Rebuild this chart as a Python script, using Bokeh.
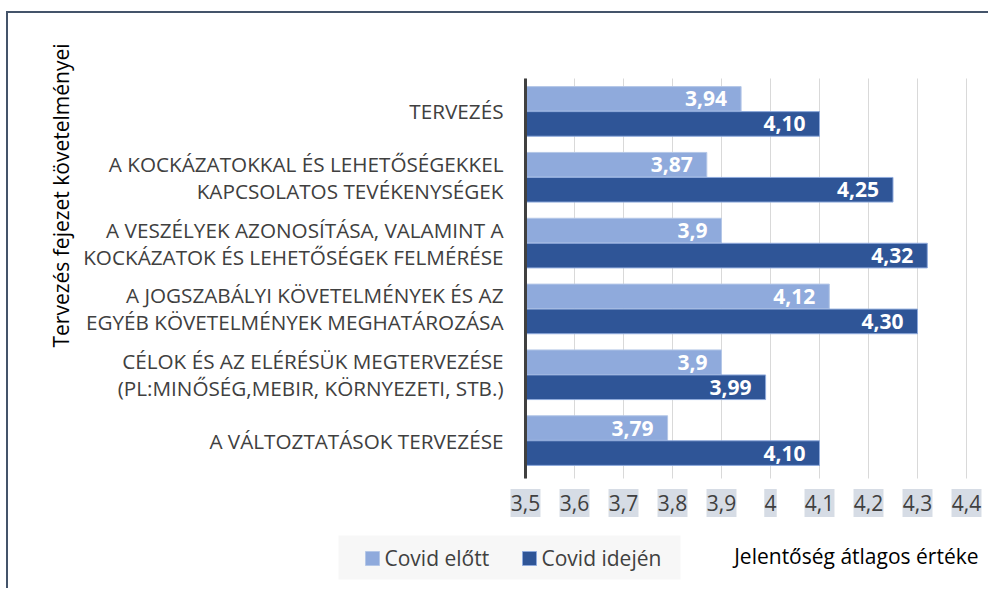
import math
from bokeh.plotting import figure
from bokeh.models import ColumnDataSource, Range1d, FixedTicker
from bokeh.core.properties import value
from bokeh.embed import file_html
from bokeh.resources import INLINE

# ---- data -----------------------------------------------------------------
categories = [
    "TERVEZÉS",
    "A KOCKÁZATOKKAL ÉS LEHETŐSÉGEKKEL\nKAPCSOLATOS TEVÉKENYSÉGEK",
    "A VESZÉLYEK AZONOSÍTÁSA, VALAMINT A\nKOCKÁZATOK ÉS LEHETŐSÉGEK FELMÉRÉSE",
    "A JOGSZABÁLYI KÖVETELMÉNYEK ÉS AZ\nEGYÉB KÖVETELMÉNYEK MEGHATÁROZÁSA",
    "CÉLOK ÉS AZ ELÉRÉSÜK MEGTERVEZÉSE\n(PL:MINŐSÉG,MEBIR, KÖRNYEZETI, STB.)",
    "A VÁLTOZTATÁSOK TERVEZÉSE",
]
covid_elott = [3.94, 3.87, 3.9, 4.12, 3.9, 3.79]
covid_idejen = [4.10, 4.25, 4.32, 4.30, 3.99, 4.10]
series_names = ["Covid előtt", "Covid idején"]
x_ticks = [3.5, 3.6, 3.7, 3.8, 3.9, 4.0, 4.1, 4.2, 4.3, 4.4]
x_title = "Jelentőség átlagos értéke"
y_title = "Tervezés fejezet követelményei"

# ---- styling / layout ------------------------------------------------------
FONT = "Open Sans"
LIGHT, LIGHT_EDGE = "#8FAADC", "#B4C7E7"
DARK, DARK_EDGE = "#2F5597", "#8FAADC"
GRAY_TXT = "#404040"

W, H = 982, 577
ORIG_X, ORIG_Y = 8, 13          # page position of the canvas (after css border)
PX_X = 490.0                    # pixels per x data unit (0.1 -> 49 px)
n = len(categories)
PX_Y = 395.0 / n                # pixels per category slot
AX_X, AX_Y = 525, 78            # page px of (x_ticks[0], top of category area)

x0 = x_ticks[0]
y_top = float(n)


def X(px):
    """page pixel -> x data"""
    return x0 + (px - AX_X) / PX_X


def Y(py):
    """page pixel -> y data"""
    return y_top - (py - AX_Y) / PX_Y


x_range = Range1d(X(ORIG_X), X(ORIG_X + W))
y_range = Range1d(Y(ORIG_Y + H), Y(ORIG_Y))

centers = [n - 0.5 - i for i in range(n)]
BAR_OFF, BAR_H = 0.19, 0.374

lab_a = [f"{v:g}".replace(".", ",") for v in covid_elott]
lab_b = [f"{v:.2f}".replace(".", ",") for v in covid_idejen]
tick_labels = [f"{t:g}".replace(".", ",") for t in x_ticks]
# approximate label widths (px) for the shaded tick-label boxes
tick_box_w = [sum(5.0 if ch == "," else 12.5 for ch in s) for s in tick_labels]

src = ColumnDataSource(dict(
    ya=[c + BAR_OFF for c in centers], yb=[c - BAR_OFF for c in centers],
    a=covid_elott, b=covid_idejen, base=[x0] * n, la=lab_a, lb=lab_b))

p = figure(width=W, height=H, x_range=x_range, y_range=y_range,
           output_backend="svg", toolbar_location=None,
           x_axis_location=None, y_axis_location="left",
           min_border=0, min_border_left=0, min_border_right=0,
           min_border_top=0, min_border_bottom=0)
p.styles = {"border-left": "2px solid #44546A", "border-top": "2px solid #44546A",
            "margin-left": "6px", "margin-top": "11px"}
p.outline_line_color = None
p.background_fill_color = "white"
p.border_fill_color = "white"
p.xgrid.visible = False
p.ygrid.visible = False

# vertical grid lines (stop at the bottom of the category area, plus tick stub)
stub = 5 / PX_Y
p.segment(x0=x_ticks, y0=[-stub] * len(x_ticks), x1=x_ticks,
          y1=[y_top] * len(x_ticks), line_color="#D9D9D9", line_width=1)

# bars
p.hbar(y="ya", left="base", right="a", height=BAR_H, source=src,
       fill_color=LIGHT, line_color=LIGHT_EDGE, line_width=1)
p.hbar(y="yb", left="base", right="b", height=BAR_H, source=src,
       fill_color=DARK, line_color=DARK_EDGE, line_width=1)

for col, ycol in (("a", "ya"), ("b", "yb")):
    p.text(x=col, y=ycol, text="l" + col, source=src,
           text_align="right", text_baseline="middle", x_offset=-14,
           text_color="white", text_font=value(FONT), text_font_style="bold",
           text_font_size="21px")

# x tick labels with shaded background
lab_y = Y(502.5)
p.rect(x=x_ticks, y=[lab_y] * len(x_ticks), width=tick_box_w, height=28,
       width_units="screen", height_units="screen",
       fill_color="#D6DCE5", line_color=None)
p.text(x=x_ticks, y=[lab_y] * len(x_ticks), text=tick_labels,
       text_align="center", text_baseline="middle",
       text_color=GRAY_TXT, text_font=value(FONT), text_font_size="21px")

# y axis (category labels) fixed at x = x0
ya = p.yaxis[0]
ya.fixed_location = x0
ya.bounds = (-stub, y_top)
ya.ticker = FixedTicker(ticks=centers)
ya.major_label_overrides = {c: lab for c, lab in zip(centers, categories)}
ya.axis_line_color = GRAY_TXT
ya.axis_line_width = 3
ya.major_tick_line_color = None
ya.minor_tick_line_color = None
ya.major_label_standoff = 16
ya.major_label_text_font = FONT
ya.major_label_text_font_size = "20.7px"
ya.major_label_text_color = GRAY_TXT
ya.major_label_text_line_height = 0.97

# axis titles
p.text(x=[x_ticks[-1]], y=[Y(555)], text=[x_title], x_offset=12,
       text_align="right", text_baseline="middle", text_color="black",
       text_font=value(FONT), text_font_size="21px")
p.text(x=[X(60)], y=[Y(195)], text=[y_title],
       angle=math.pi / 2, text_align="center", text_baseline="middle",
       text_color="black", text_font=value(FONT), text_font_size="21px")

# legend (drawn as a shaded box with swatches and labels)
leg_y = Y(557)
p.rect(x=[X(509)], y=[leg_y], width=342, height=44,
       width_units="screen", height_units="screen",
       fill_color="#F7F7F7", line_color=None)
sw_x = [X(372), X(529)]
p.rect(x=sw_x, y=[Y(558)] * 2, width=14, height=14,
       width_units="screen", height_units="screen",
       fill_color=[LIGHT, DARK], line_color=[LIGHT_EDGE, DARK_EDGE])
p.text(x=sw_x, y=[leg_y] * 2, text=series_names, x_offset=12,
       text_align="left", text_baseline="middle", text_color=GRAY_TXT,
       text_font=value(FONT), text_font_size="21px")

open("out.html", "w").write(file_html(p, INLINE))
